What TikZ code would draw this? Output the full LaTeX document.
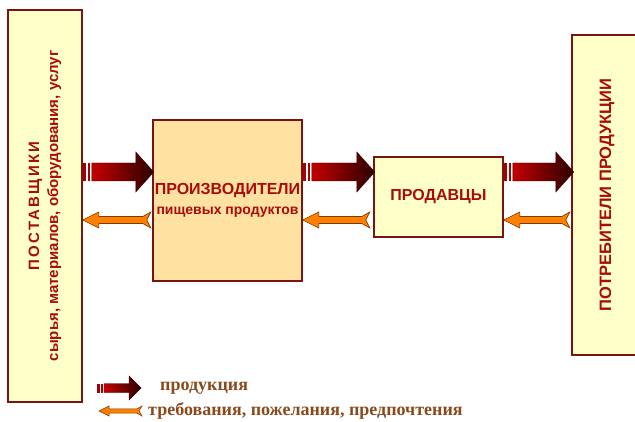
\documentclass[tikz,border=0pt]{standalone}
\usepackage{fontspec}
\setmainfont{Liberation Sans}
\newfontfamily\legfont{Liberation Serif}
\usetikzlibrary{calc}
\definecolor{boxline}{HTML}{7A1414}
\definecolor{boxtext}{HTML}{A80C0C}
\definecolor{paleyel}{HTML}{FFFFC8}
\definecolor{peach}{HTML}{FFE2A2}
\definecolor{darkA}{HTML}{C40000}
\definecolor{darkB}{HTML}{2A0000}
\definecolor{darkline}{HTML}{3A0000}
\definecolor{orangeA}{HTML}{FF7F00}
\definecolor{orangeline}{HTML}{7A3A00}
\definecolor{legtext}{HTML}{8A4A1C}
\tikzset{
  x=1pt, y=-1pt,
  actor/.style={draw=boxline, line width=1.6pt, fill=paleyel, inner sep=0pt,
    text=boxtext, font=\bfseries, align=center},
  pics/prodarrow/.style={code={
    \shade[left color=darkA, right color=darkB, draw=darkline, line width=0.4pt]
      (9,-9) -- ({#1-18},-9) -- ({#1-18},-20) -- (#1,0) -- ({#1-18},20) -- ({#1-18},9) -- (9,9) -- cycle;
    \fill[darkA!85!black] (0,-9) rectangle (3.5,9);
    \fill[darkA!85!black] (5.5,-9) rectangle (7.5,9);
  }},
  pics/smallprod/.style={code={
    \shade[left color=darkA, right color=darkB, draw=darkline, line width=0.4pt]
      (7,-4.5) -- ({#1-12},-4.5) -- ({#1-12},-12) -- (#1,0) -- ({#1-12},12) -- ({#1-12},4.5) -- (7,4.5) -- cycle;
    \fill[darkA!85!black] (0,-4.5) rectangle (2.5,4.5);
    \fill[darkA!85!black] (4,-4.5) rectangle (5.5,4.5);
  }},
  pics/reqarrow/.style={code={
    \filldraw[fill=orangeA, draw=orangeline, line width=0.6pt]
      (0,0) -- (16,-8) -- (16,-3.5) -- ({#1-8},-3.5) -- (#1,-8) -- ({#1-4},0) -- (#1,8)
      -- ({#1-8},3.5) -- (16,3.5) -- (16,8) -- cycle;
  }},
  pics/smallreq/.style={code={
    \filldraw[fill=orangeA, draw=orangeline, line width=0.5pt]
      (0,0) -- (10,-5) -- (10,-2.2) -- ({#1-5},-2.2) -- (#1,-5) -- ({#1-3},0) -- (#1,5)
      -- ({#1-5},2.2) -- (10,2.2) -- (10,5) -- cycle;
  }},
  legend/.style={text=legtext, font=\legfont\bfseries\fontsize{18}{20}\selectfont, anchor=west, inner sep=0pt}
}
\begin{document}
\begin{tikzpicture}
\useasboundingbox[fill=white] (0,0) rectangle (635,422);
% boxes
\node[actor, rotate=90, minimum width=392pt, minimum height=74pt,
  font=\bfseries\fontsize{15}{19}\selectfont] (sup) at (45,206)
  {{\addfontfeature{LetterSpace=15}ПОСТАВЩИКИ}\\сырья, материалов, оборудования, услуг};
\node[actor, fill=peach, minimum width=149pt, minimum height=161pt,
  font=\bfseries\fontsize{16}{20}\selectfont] (prod) at (227.5,200.5)
  {ПРОИЗВОДИТЕЛИ\\{\fontsize{14}{16}\selectfont пищевых продуктов}};
\node[actor, minimum width=129pt, minimum height=80pt,
  font=\bfseries\fontsize{16}{18}\selectfont] (sell) at (438.5,197) {ПРОДАВЦЫ};
\node[actor, rotate=90, minimum width=320pt, minimum height=70pt,
  font=\bfseries\fontsize{16.5}{18}\selectfont] (cons) at (607,195) {ПОТРЕБИТЕЛИ ПРОДУКЦИИ};
% flow levels
\coordinate (fwd) at (0,172);
\coordinate (back) at (0,220);
% product arrows
\pic at (sup.south |- fwd) {prodarrow=71};
\pic at (prod.east |- fwd) {prodarrow=72};
\pic at (sell.east |- fwd) {prodarrow=70};
% requirement arrows
\pic at (sup.south |- back) {reqarrow=68};
\pic at (prod.east |- back) {reqarrow=67};
\pic at (sell.east |- back) {reqarrow=66};
% legend
\coordinate (lg1) at (97,388);
\coordinate (lg2) at (99,411);
\pic at (lg1) {smallprod=44};
\pic at (lg2) {smallreq=43};
\node[legend] (lt1) at (160,388) {продукция};
\node[legend] (lt2) at (148,411) {требования, пожелания, предпочтения};
\end{tikzpicture}
\end{document}
